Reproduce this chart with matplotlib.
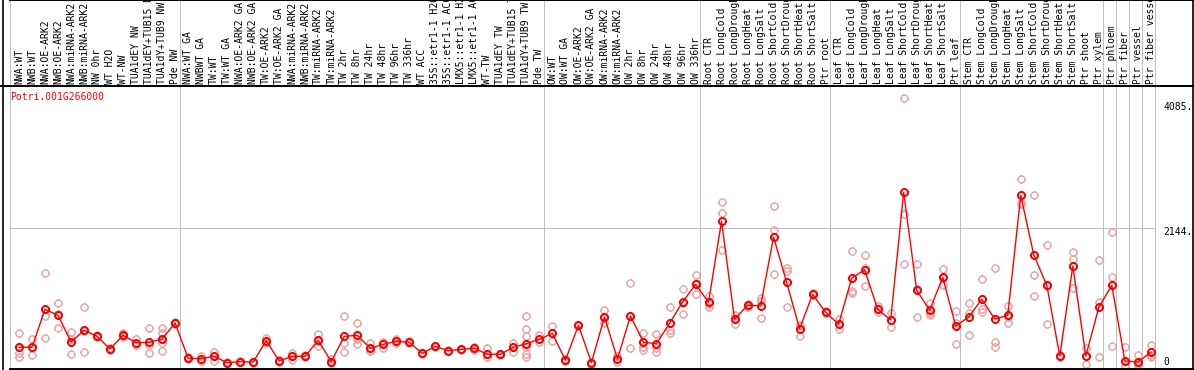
import matplotlib
matplotlib.use("Agg")
import matplotlib.pyplot as plt
from matplotlib.path import Path
from matplotlib.lines import Line2D
from matplotlib.transforms import blended_transform_factory
import numpy as np

# ---------------- data ----------------
gene_id = "Potri.001G266000"

labels = [
    "NWA:WT", "NWB:WT", "NWA:OE-ARK2", "NWB:OE-ARK2", "NWA:miRNA-ARK2", "NWB:miRNA-ARK2",
    "NW 0hr", "WT H2O", "WT-NW", "TUA1dEY NW", "TUA1dEY+TUB15 NW", "TUA1dY+TUB9 NW", "Pde NW",
    "NWA:WT GA", "NWBWT GA", "TW:WT", "TW:WT GA", "NWA:OE-ARK2 GA", "NWB:OE-ARK2 GA",
    "TW:OE-ARK2", "TW:OE-ARK2 GA", "NWA:miRNA-ARK2", "NWB:miRNA-ARK2", "TW:miRNA-ARK2",
    "TW:miRNA-ARK2", "TW 2hr", "TW 8hr", "TW 24hr", "TW 48hr", "TW 96hr", "TW 336hr",
    "WT ACC", "35S::etr1-1 H2O", "35S::etr1-1 ACC", "LMX5::etr1-1 H2O", "LMX5::etr1-1 ACC",
    "WT-TW", "TUA1dEY TW", "TUA1dEY+TUB15 TW", "TUA1dY+TUB9 TW", "Pde TW",
    "OW:WT", "OW:WT GA", "OW:OE-ARK2", "OW:OE-ARK2 GA", "OW:miRNA-ARK2", "OW:miRNA-ARK2",
    "OW 2hr", "OW 8hr", "OW 24hr", "OW 48hr", "OW 96hr", "OW 336hr",
    "Root CTR", "Root LongCold", "Root LongDrought", "Root LongHeat", "Root LongSalt",
    "Root ShortCold", "Root ShortDrought", "Root ShortHeat", "Root ShortSalt", "Ptr root",
    "Leaf CTR", "Leaf LongCold", "Leaf LongDrought", "Leaf LongHeat", "Leaf LongSalt",
    "Leaf ShortCold", "Leaf ShortDrought", "Leaf ShortHeat", "Leaf ShortSalt", "Ptr leaf",
    "Stem CTR", "Stem LongCold", "Stem LongDrought", "Stem LongHeat", "Stem LongSalt",
    "Stem ShortCold", "Stem ShortDrought", "Stem ShortHeat", "Stem ShortSalt",
    "Ptr shoot", "Ptr xylem", "Ptr phloem", "Ptr fiber", "Ptr vessel", "Ptr fiber vessel",
]

group_sizes = [13, 28, 12, 10, 10, 11, 1, 1, 1, 1]

means = [
    297, 297, 887, 793, 379, 560, 467, 270, 483, 368, 374, 425, 674,
    126, 120, 157, 57, 73, 68, 399, 84, 157, 157, 405, 73, 467, 483, 281, 343, 390, 374,
    203, 312, 244, 265, 281, 188, 188, 297, 353, 421,
    514, 95, 638, 60, 767, 115, 783, 374, 353, 669, 995, 1275,
    995, 2253, 731, 949, 938, 2009, 1306, 585, 1119, 840,
    654, 1368, 1502, 887, 720, 2703, 1181, 871, 1383, 627,
    767, 1042, 736, 793, 2656, 1730, 1259, 161, 1559, 161, 918,
    1259, 84, 68, 219,
]

replicates = [
    [514, 203, 151], [421, 288, 182], [1445, 783, 436], [980, 807, 592], [530, 419, 188],
    [918, 543, 219], [484, 467, 450], [280, 270, 260], [523, 465, 461], [421, 351, 332],
    [592, 327, 203], [592, 514, 359, 239], [690, 674, 660],
    [140, 126, 110], [166, 105, 89], [228, 157, 86], [65, 57, 50], [80, 73, 66], [75, 68, 60],
    [436, 390, 370], [95, 84, 75], [213, 159, 99], [170, 157, 145], [503, 395, 317],
    [110, 61, 48], [778, 359, 228], [669, 432, 348], [368, 239, 236], [384, 364, 281],
    [421, 390, 360], [390, 374, 358], [215, 203, 190], [320, 312, 300], [255, 244, 235],
    [275, 265, 255], [301, 281, 262], [281, 142, 141], [195, 188, 180], [368, 295, 228],
    [778, 576, 477, 300, 197, 151], [487, 421, 380],
    [627, 516, 399], [110, 95, 80], [650, 638, 625], [75, 60, 45], [876, 756, 669],
    [157, 115, 73], [1290, 778, 281], [514, 306, 255], [503, 281, 228], [918, 565, 523],
    [1197, 979, 809], [1415, 1291, 1119],
    [1093, 974, 918], [2558, 2377, 1803], [798, 741, 654], [965, 949, 918], [1057, 1010, 747],
    [2491, 2118, 1430], [1533, 1481, 918], [643, 635, 477], [1135, 1119, 1105], [855, 840, 825],
    [731, 655, 576], [1792, 1176, 1144], [1730, 1528, 1248], [938, 885, 849], [824, 720, 617],
    [4163, 2362, 1585], [1585, 1196, 762], [989, 831, 793], [1512, 1373, 1264], [860, 679, 343],
    [989, 824, 483], [1352, 887, 849], [1523, 384, 306], [938, 762, 679], [2905, 2542, 2517],
    [2657, 1419, 1093], [1880, 1243, 654], [170, 161, 150], [1772, 1668, 1213],
    [290, 160, 33], [1648, 1005, 146],
    [2082, 1388, 317], [301, 0, 0], [172, 30, 0], [328, 178, 151],
]

ytick_values = [0, 2144, 4085]
ytick_labels = ["0", "2144.", "4085."]

# ---------------- layout ----------------
W, H = 1194, 370
fig = plt.figure(figsize=(W / 100, H / 100), dpi=100)
fig.patch.set_facecolor("white")

def rect(x0, ytop, x1, ybot):
    return [x0 / W, 1 - ybot / H, (x1 - x0) / W, (ybot - ytop) / H]

ax = fig.add_axes(rect(10, 86, 1193, 369))
axl = fig.add_axes(rect(10, 0, 1193, 86), sharex=ax)

pitch = 13.01          # px between columns
first_center = 19.0    # px of first column centre
xmin = (10 - first_center) / pitch
xmax = (1193 - first_center) / pitch
ax.set_xlim(xmin, xmax)

ppu = 0.0644           # px per expression unit
zero_px = 366.4
ax.set_ylim((zero_px - 369) / ppu, (zero_px - 86) / ppu)
axl.set_ylim(0, 1)

for a in (ax, axl):
    a.set_xticks([])
    a.set_yticks([])
    a.set_facecolor("white")
    a.spines["left"].set_color("#c0c0c0")
    a.spines["left"].set_linewidth(0.75)
    a.spines["right"].set_color("black")
    a.spines["right"].set_linewidth(1.2)
ax.spines["top"].set_visible(False)
ax.spines["bottom"].set_color("black")
ax.spines["bottom"].set_linewidth(1.4)
axl.spines["bottom"].set_visible(False)
axl.spines["top"].set_color("black")
axl.spines["top"].set_linewidth(1.4)

gray = "#c0c0c0"
mono = "DejaVu Sans Mono"

# group separators
ends = np.cumsum(group_sizes) - 1
seps = ends + 0.346
for s in seps:
    ax.axvline(s, color=gray, lw=0.75, zorder=1)
    axl.axvline(s, color=gray, lw=0.75, zorder=1)

# middle gridline
ax.hlines(ytick_values[1], xmin, seps[-1], color=gray, lw=0.75, zorder=1)

# marker: circle with four small ticks
circ = Path.unit_circle()
tv = [[0, 1], [0, 1.25], [0, -1], [0, -1.25], [1, 0], [1.25, 0], [-1, 0], [-1.25, 0]]
tc = [Path.MOVETO, Path.LINETO] * 4
mpath = Path.make_compound_path(circ, Path(tv, tc))

idx = np.arange(len(means))
for i, reps in enumerate(replicates):
    ax.plot([i] * len(reps), reps, linestyle="none", marker=mpath, ms=6.3,
            mfc="none", mec="#eba3a3", mew=1.0, zorder=2)

ax.plot(idx, means, color="red", lw=1.0, marker=mpath, ms=6.3,
        mfc="none", mec="red", mew=1.4, zorder=3)

# column labels
tr_l = blended_transform_factory(axl.transData, axl.transAxes)
for i, lab in enumerate(labels):
    axl.text(i, 2 / 86, lab, rotation=90, ha="center", va="bottom",
             fontsize=7, family=mono, transform=tr_l, clip_on=False)

# gene id
ax.text(0.5 / 1183, (369 - 97) / (369 - 86), gene_id, transform=ax.transAxes,
        color="red", ha="left", va="center", fontsize=7, family=mono)

# y tick labels (inside, at right)
tr_y = blended_transform_factory(ax.transAxes, ax.transData)
offsets_px = [4, -4, -4]
for v, lab, off in zip(ytick_values, ytick_labels, offsets_px):
    ax.annotate(lab, xy=((1163 - 10) / 1183, v), xycoords=tr_y,
                xytext=(0, off * 0.72), textcoords="offset points",
                ha="left", va="center", fontsize=7, family=mono)

# outer frame pieces
fig.add_artist(Line2D([2.5 / W, 2.5 / W], [0, 1], transform=fig.transFigure,
                      color="black", lw=1.2))
fig.add_artist(Line2D([0, 1], [1 - 86 / H, 1 - 86 / H], transform=fig.transFigure,
                      color="black", lw=1.4))

fig.savefig("out.png", dpi=100, facecolor="white")
